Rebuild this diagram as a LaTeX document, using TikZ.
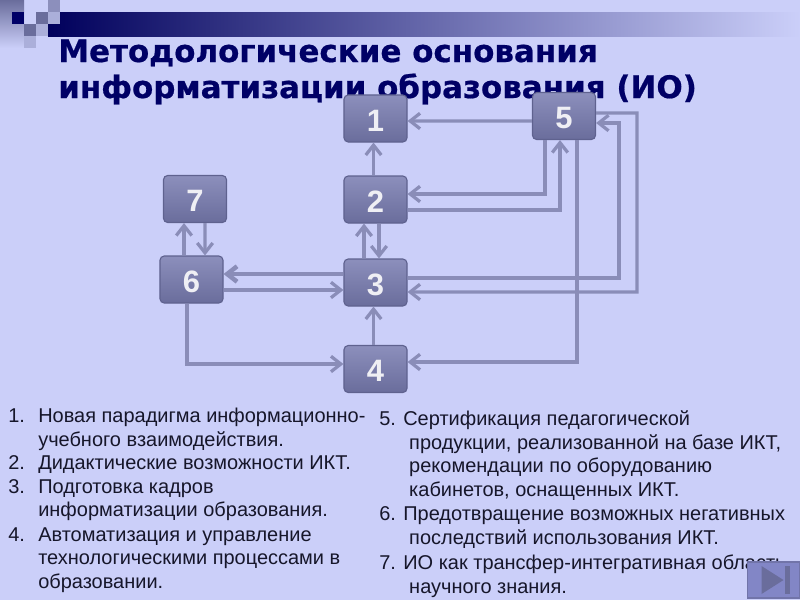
\documentclass[tikz,border=0pt]{standalone}
\usepackage{fontspec}
\setmainfont{Liberation Sans}
\newfontfamily\titlefont[BoldFeatures={FakeBold=0.6}]{DejaVu Sans}
\usepackage{xcolor}
\usetikzlibrary{arrows.meta, calc, shadings}
\definecolor{SlideBack}{HTML}{CBCFF9}
\definecolor{SlideNavy}{HTML}{000066}
\definecolor{SlideBlock}{HTML}{5F628F}
\definecolor{SlideBlockTop}{HTML}{8C8FBC}
\definecolor{SlideBlockLow}{HTML}{6A6D9C}
\definecolor{SlideLine}{HTML}{8A8DB8}
\definecolor{SlideInk}{HTML}{16162A}
\definecolor{SlideButton}{HTML}{8286C6}
\tikzset{
    % Node styles
    numbox/.style={
        rectangle,
        rounded corners=3pt,
        draw=SlideBlock,
        top color=SlideBlockTop,
        bottom color=SlideBlockLow,
        thick,
        minimum width=1.575cm,
        minimum height=1.175cm,
        text height=18.2pt,
        text depth=0pt,
        text=white!90!SlideBlock,
        font=\fontsize{22}{22}\selectfont\bfseries
    },
    titleline/.style={
        anchor=base west,
        inner sep=0pt,
        text=SlideNavy,
        font=\titlefont\fontsize{22}{24}\selectfont\bfseries
    },
    listitem/.style={
        anchor=north west,
        inner sep=0pt,
        align=left,
        text=SlideInk,
        font=\fontsize{14.2}{17}\selectfont
    },
    square/.style={
        rectangle,
        draw=none,
        inner sep=0pt,
        minimum size=0.3cm,
        anchor=north west
    },
    % Arrow styles
    myarrow/.style={
        -{Straight Barb[length=7pt,width=11pt]},
        line width=2.3pt,
        SlideLine
    }
}
\newcommand{\contline}{\hspace*{21.3pt}}
\begin{document}
\begin{tikzpicture}[x=0.025cm, y=-0.025cm]
    \useasboundingbox (0,0) rectangle (800,600);
    \fill[SlideBack] (0,0) rectangle (800,600);

    % Header bar and squares
    \shade[left color=SlideNavy!90!black, right color=SlideBack] (48,12) rectangle (800,36);
    \shade[top color=SlideBlockLow, bottom color=SlideBack] (0,0) rectangle (24,48);
    \node[square,fill=SlideNavy] (s1) at (12,12) {};
    \node[square,fill=SlideBlockLow] (s2) at (36,12) {};
    \node[square,fill=SlideBlockTop] (s3) at (48,0) {};
    \node[square,fill=SlideBlockTop!50!SlideBack] (s4) at (48,12) {};
    \node[square,fill=SlideBlockLow] (s5) at (24,24) {};
    \node[square,fill=SlideBlockTop!50!SlideBack] (s6) at (24,36) {};
    \node[square,fill=SlideBlockTop!50!SlideBack] (s7) at (36,24) {};

    % Title
    \node[titleline] (title1) at (58,62) {Методологические основания};
    \node[titleline] (title2) at (58,98) {информатизации образования (ИО)};

    % Numbered blocks
    \node[numbox] (b1) at (375.5,118.5) {1};
    \node[numbox] (b5) at (564,116) {5};
    \node[numbox] (b2) at (375.5,199.5) {2};
    \node[numbox] (b3) at (375.5,282.5) {3};
    \node[numbox] (b4) at (375.5,369) {4};
    \node[numbox] (b6) at (191.5,279.5) {6};
    \node[numbox] (b7) at (195,199) {7};

    % Connectors
    \draw[myarrow] ($(b5.west)+(0,5)$) -- ($(b1.east)+(0,2.5)$);
    \draw[myarrow] ($(b2.north)+(-2,0)$) -- ($(b1.south)+(-2,0)$);
    \draw[myarrow] ($(b5.south)+(-19,0)$) |- ($(b2.east)+(0,-5.5)$);
    \draw[myarrow] ($(b2.east)+(0,10.5)$) -| ($(b5.south)+(-4,0)$);
    \draw[myarrow] ($(b3.north)+(-11.5,0)$) -- ($(b2.south)+(-11.5,0)$);
    \draw[myarrow] ($(b2.south)+(3.5,0)$) -- ($(b3.north)+(3.5,0)$);
    \draw[myarrow] ($(b3.east)+(0,-4.5)$) -| (619,123) -- ($(b5.east)+(0,7)$);
    \draw[myarrow] ($(b5.east)+(0,-3)$) -| (637,292) -- ($(b3.east)+(0,9.5)$);
    \draw[myarrow] ($(b5.south)+(13,0)$) |- ($(b4.east)+(0,-7)$);
    \draw[myarrow] ($(b4.north)+(-2,0)$) -- ($(b3.south)+(-2,0)$);
    \draw[myarrow,line width=3.2pt] ($(b3.west)+(0,-8.5)$) -- ($(b6.east)+(0,-5.5)$);
    \draw[myarrow] ($(b6.east)+(0,10.5)$) -- ($(b3.west)+(0,7.5)$);
    \draw[myarrow] ($(b6.south)+(-4.5,0)$) |- ($(b4.west)+(0,-5)$);
    \draw[myarrow] ($(b6.north)+(-7.5,0)$) -- ($(b7.south)+(-11,0)$);
    \draw[myarrow] ($(b7.south)+(10,0)$) -- ($(b6.north)+(13.5,0)$);

    % Left list
    \node[listitem] (n1) at (8,408) {1.};
    \node[listitem] (t1) at (38,408) {Новая парадигма информационно-\\учебного взаимодействия.};
    \node[listitem] (n2) at (8,455) {2.};
    \node[listitem] (t2) at (38,455) {Дидактические возможности ИКТ.};
    \node[listitem] (n3) at (8,479) {3.};
    \node[listitem] (t3) at (38,479) {Подготовка кадров\\информатизации образования.};
    \node[listitem] (n4) at (8,527) {4.};
    \node[listitem] (t4) at (38,527) {Автоматизация и управление\\технологическими процессами в\\образовании.};

    % Right list
    \node[listitem] (t5) at (379,410) {5. Сертификация педагогической\\\contline продукции, реализованной на базе ИКТ,\\\contline рекомендации по оборудованию\\\contline кабинетов, оснащенных ИКТ.};
    \node[listitem] (t6) at (379,506.5) {6. Предотвращение возможных негативных\\\contline последствий использования ИКТ.};
    \node[listitem] (t7) at (379,554.5) {7. ИО как трансфер-интегративная область\\\contline научного знания.};

    % Forward button
    \node[rectangle,draw=SlideBlockLow!70!SlideButton,fill=SlideButton,thick,minimum width=1.3cm,minimum height=0.9cm,inner sep=0pt] (nav) at (773.5,580) {};
    \fill[SlideBlockLow] ($(nav.center)+(-12,-14)$) -- ($(nav.center)+(10,0)$) -- ($(nav.center)+(-12,14)$) -- cycle;
    \fill[SlideBlockLow] ($(nav.center)+(11,-14)$) rectangle ($(nav.center)+(16,14)$);
\end{tikzpicture}
\end{document}
